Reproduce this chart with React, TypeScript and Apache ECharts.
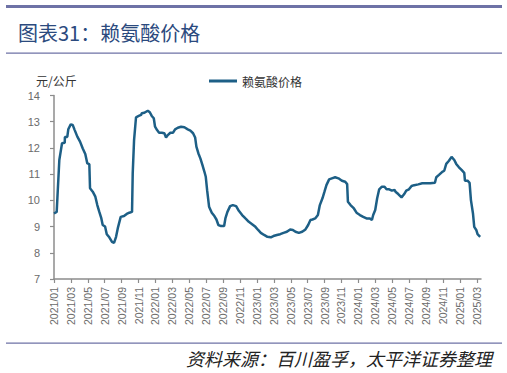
import React, { useEffect, useRef } from "react";
import * as echarts from "echarts";

// month offset from 2021/01 (fractional) and price (元/公斤)
const monthOffsets: number[] = [
  0, 0.32, 0.4, 0.63, 0.79, 0.95, 1.27, 1.29, 1.57, 1.69, 1.98, 2.21, 2.45, 2.76, 3.08, 3.4, 3.7, 3.94, 4.18,
  4.26, 4.58, 4.89, 5.12, 5.36, 5.6, 5.76, 6.04, 6.24, 6.54, 6.86, 7.1, 7.34, 7.57, 7.89, 8.28, 8.6, 8.91, 9.23,
  9.31, 9.47, 9.7, 10.02, 10.3, 10.38, 10.69, 11.09, 11.33, 11.56, 11.8, 11.95, 12.19, 12.43, 12.75, 13.05, 13.25,
  13.46, 13.76, 14.08, 14.32, 14.64, 15.03, 15.42, 15.82, 16.13, 16.45, 16.69, 16.84, 17.08, 17.31, 17.55, 17.79,
  17.95, 18.11, 18.34, 18.66, 18.97, 19.21, 19.44, 19.76, 20.12, 20.27, 20.51, 20.83, 21.15, 21.54, 21.86, 22.25,
  22.64, 23.04, 23.43, 23.82, 24.14, 24.46, 24.85, 25.24, 25.64, 25.95, 26.36, 26.75, 27.14, 27.54, 27.93, 28.25,
  28.56, 28.96, 29.35, 29.74, 30.06, 30.33, 30.57, 30.89, 31.21, 31.44, 31.75, 31.99, 32.22, 32.54, 32.86, 33.25,
  33.64, 34.05, 34.44, 34.67, 34.76, 35.07, 35.47, 35.78, 36.18, 36.57, 36.96, 37.36, 37.6, 37.75, 37.99, 38.22,
  38.46, 38.78, 39.09, 39.33, 39.64, 39.96, 40.27, 40.39, 40.71, 41.1, 41.42, 41.66, 41.98, 42.29, 42.6, 43.08,
  43.55, 44.02, 44.5, 45.05, 45.21, 45.53, 45.92, 46.15, 46.39, 46.71, 47.02, 47.34, 47.57, 47.89, 48.2, 48.52,
  48.6, 48.91, 49.15, 49.31, 49.55, 49.7, 49.94, 50.09, 50.4,
];

const prices: number[] = [
  9.5, 9.56, 10.08, 11.54, 11.86, 12.18, 12.2, 12.42, 12.42, 12.71, 12.9, 12.88, 12.68, 12.43, 12.24, 11.98, 11.77,
  11.41, 11.38, 10.46, 10.33, 10.14, 9.82, 9.56, 9.31, 9.06, 9.0, 8.71, 8.59, 8.42, 8.38, 8.61, 8.97, 9.37, 9.4,
  9.48, 9.53, 9.56, 11.03, 12.3, 13.17, 13.22, 13.26, 13.32, 13.34, 13.42, 13.36, 13.22, 13.13, 12.81, 12.68, 12.58,
  12.58, 12.56, 12.4, 12.49, 12.58, 12.58, 12.71, 12.77, 12.81, 12.79, 12.71, 12.66, 12.56, 12.4, 12.05, 11.79,
  11.6, 11.35, 11.09, 10.9, 10.39, 9.76, 9.53, 9.4, 9.27, 9.06, 9.02, 9.02, 9.31, 9.56, 9.78, 9.82, 9.78, 9.6, 9.44,
  9.31, 9.18, 9.09, 8.99, 8.87, 8.76, 8.68, 8.61, 8.59, 8.64, 8.68, 8.71, 8.76, 8.8, 8.89, 8.87, 8.8, 8.76, 8.8,
  8.89, 9.06, 9.25, 9.27, 9.31, 9.44, 9.82, 10.08, 10.33, 10.58, 10.8, 10.84, 10.88, 10.84, 10.75, 10.71, 10.62,
  9.95, 9.82, 9.69, 9.53, 9.44, 9.37, 9.31, 9.31, 9.25, 9.44, 9.63, 10.08, 10.42, 10.52, 10.52, 10.42, 10.42,
  10.37, 10.4, 10.33, 10.24, 10.11, 10.24, 10.37, 10.42, 10.55, 10.58, 10.61, 10.65, 10.65, 10.65, 10.67, 10.88,
  10.97, 11.09, 11.13, 11.39, 11.51, 11.66, 11.54, 11.39, 11.26, 11.16, 11.05, 10.75, 10.75, 10.67, 10.01, 9.5,
  8.99, 8.87, 8.71, 8.61,
];

// tick label positions: every 2 months from 2021/01 to 2025/03
const tickMonths: number[] = [
  0, 2, 4, 6, 8, 10, 12, 14, 16, 18, 20, 22, 24, 26, 28, 30, 32, 34, 36, 38, 40, 42, 44, 46, 48, 50,
];

const seriesName = "赖氨酸价格";
const titleText = "图表31：赖氨酸价格";
const unitText = "元/公斤";
const sourceText = "资料来源：百川盈孚，太平洋证券整理";

const monthLabel = (m: number): string => {
  const y = 2021 + Math.floor(m / 12);
  const mo = (m % 12) + 1;
  return `${y}/${mo < 10 ? "0" + mo : mo}`;
};

export default function App() {
  const ref = useRef<HTMLDivElement>(null);
  useEffect(() => {
    document.body.style.margin = "0";
    if (!ref.current) return;
    const chart = echarts.init(ref.current, undefined, { renderer: "svg" });
    const frameColor = "#6E72A6";
    const axisColor = "#8C8C8C";
    const lineColor = "#1D5F86";
    chart.setOption({
      animation: false,
      backgroundColor: "#ffffff",
      grid: { left: 54, right: 26, top: 95.5, bottom: 94, containLabel: false },
      legend: {
        show: true,
        left: 204,
        top: 69,
        icon: "rect",
        itemWidth: 28,
        itemHeight: 3,
        itemGap: 10,
        textStyle: { fontSize: 12, color: "#333333", fontFamily: "Noto Sans CJK SC", lineHeight: 14 },
        data: [seriesName],
      },
      xAxis: {
        type: "value",
        min: 0,
        max: 50.5,
        interval: 2,
        splitLine: { show: false },
        axisLine: { show: true, lineStyle: { color: axisColor, width: 1.5 } },
        axisTick: {
          show: true,
          length: 4,
          lineStyle: { color: axisColor, width: 1.2 },
          customValues: tickMonths,
        },
        axisLabel: {
          rotate: 90,
          margin: 8,
          fontSize: 10.5,
          color: "#6B6B6B",
          fontFamily: "Liberation Sans, Arial, sans-serif",
          customValues: tickMonths,
          formatter: (v: number) => monthLabel(Math.round(v)),
        },
      },
      yAxis: {
        type: "value",
        min: 7,
        max: 14,
        interval: 1,
        splitLine: { show: false },
        axisLine: { show: true, lineStyle: { color: axisColor, width: 1.5 } },
        axisTick: { show: true, length: 4, lineStyle: { color: axisColor, width: 1.2 } },
        axisLabel: {
          margin: 14,
          fontSize: 11,
          color: "#6B6B6B",
          fontFamily: "Liberation Sans, Arial, sans-serif",
        },
      },
      series: [
        {
          name: seriesName,
          type: "line",
          symbol: "none",
          data: monthOffsets.map((m, i) => [m, prices[i]]),
          lineStyle: { color: lineColor, width: 2.5 },
          itemStyle: { color: lineColor },
        },
      ],
      graphic: [
        { type: "rect", shape: { x: 6, y: 5, width: 496, height: 3 }, style: { fill: frameColor } },
        { type: "rect", shape: { x: 6, y: 52.5, width: 496, height: 1.2 }, style: { fill: frameColor } },
        { type: "rect", shape: { x: 6, y: 342.5, width: 496, height: 1.2 }, style: { fill: frameColor } },
        {
          type: "text",
          x: 18,
          y: 32,
          style: {
            text: titleText,
            fill: "#2B4A7E",
            fontSize: 20,
            fontFamily: "Noto Sans CJK SC",
            verticalAlign: "middle",
            align: "left",
          },
        },
        {
          type: "text",
          x: 36,
          y: 80,
          style: {
            text: unitText,
            fill: "#333333",
            fontSize: 12,
            fontFamily: "Noto Sans CJK SC",
            verticalAlign: "middle",
            align: "left",
          },
        },
        {
          type: "text",
          x: 492,
          y: 358,
          style: {
            text: sourceText,
            fill: "#222222",
            fontSize: 18,
            fontStyle: "italic",
            fontFamily: "Noto Sans CJK SC",
            verticalAlign: "middle",
            align: "right",
          },
        },
      ],
    });
    return () => chart.dispose();
  }, []);
  return <div ref={ref} style={{ width: 507, height: 373 }} />;
}
